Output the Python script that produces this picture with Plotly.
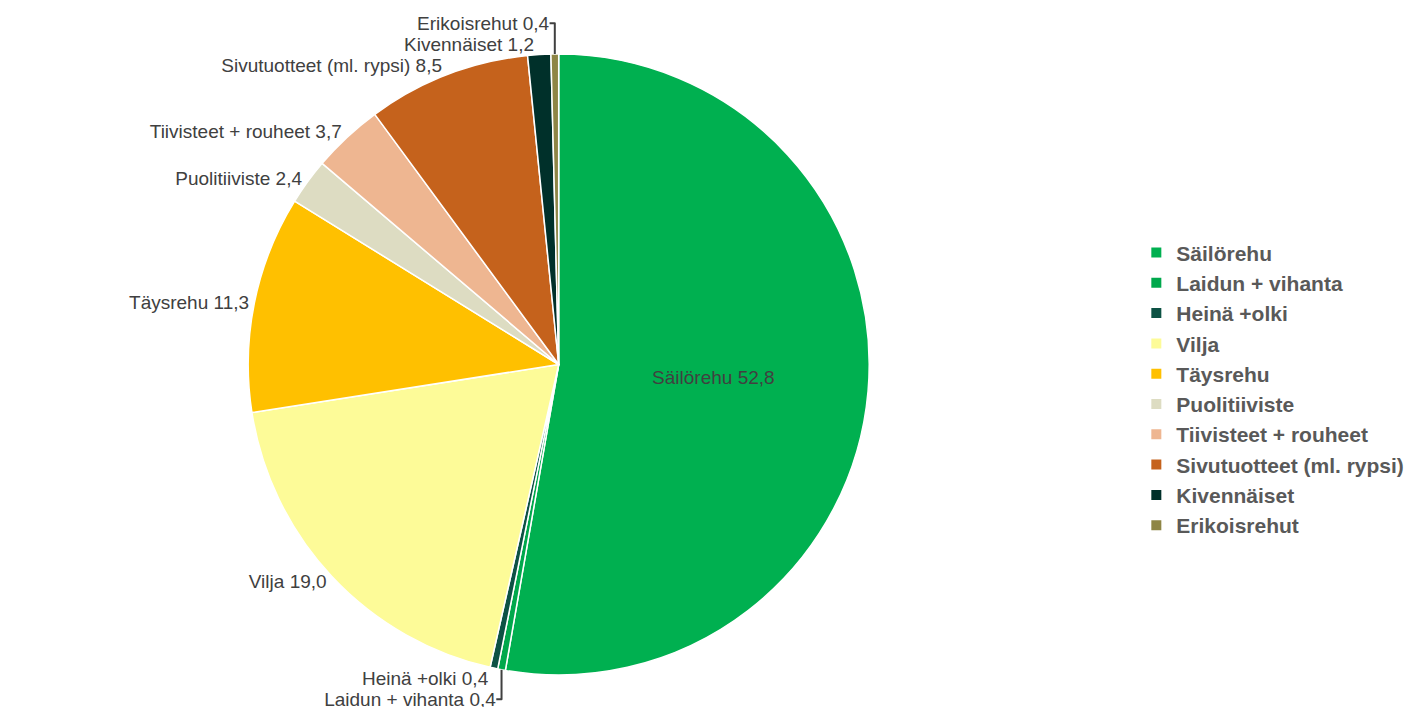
import plotly.graph_objects as go

labels = ["Säilörehu", "Laidun + vihanta", "Heinä +olki", "Vilja", "Täysrehu",
          "Puolitiiviste", "Tiivisteet + rouheet", "Sivutuotteet (ml. rypsi)",
          "Kivennäiset", "Erikoisrehut"]
values = [52.8, 0.4, 0.4, 19.0, 11.3, 2.4, 3.7, 8.5, 1.2, 0.4]
colors = ["#00B050", "#00A84C", "#0D5244", "#FDFB98", "#FFC000",
          "#DDDCC2", "#EEB691", "#C5621C", "#00302A", "#8E8545"]
positions = ["inside"] + ["outside"] * 9

fig = go.Figure(go.Pie(
    labels=labels,
    values=values,
    sort=False,
    direction="clockwise",
    rotation=0,
    marker=dict(colors=colors, line=dict(color="white", width=1.5)),
    texttemplate="%{label} %{value:.1f}",
    textposition=positions,
    insidetextorientation="horizontal",
    textfont=dict(family="Liberation Sans, Arial, sans-serif", size=19, color="#404040"),
    hoverinfo="label+value",
    domain=dict(x=[0.0, 0.6], y=[0.0, 1.0]),
))

fig.update_layout(
    width=1421, height=707,
    separators=", ",
    paper_bgcolor="white",
    plot_bgcolor="white",
    margin=dict(l=10, r=10, t=30, b=30),
    legend=dict(
        x=0.77, y=0.46, xanchor="left", yanchor="middle",
        font=dict(family="Liberation Sans, Arial, sans-serif", size=21, color="#595959", weight="bold"),
        tracegroupgap=0, itemsizing="constant",
        traceorder="normal",
    ),
)

fig.write_html("out.html")
